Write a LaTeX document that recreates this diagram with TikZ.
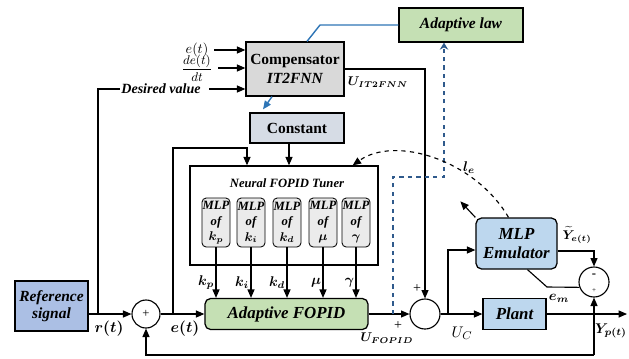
\documentclass[tikz,border=0pt]{standalone}
\usepackage{amsmath,bm}
\usepackage{fontspec}
\setmainfont{Liberation Serif}
\usepackage{xcolor}
\definecolor{LawGreen}{HTML}{C5E0B4}
\definecolor{CompGray}{HTML}{D9D9D9}
\definecolor{ConstBlue}{HTML}{D6DCE5}
\definecolor{MlpGray}{HTML}{EBEBEB}
\definecolor{RefBlue}{HTML}{ABBFE4}
\definecolor{EmuBlue}{HTML}{BDD7EE}
\definecolor{LinkBlue}{HTML}{2E75B6}
\definecolor{DashBlue}{HTML}{2F5A8C}
\usepackage{tikz}
\usetikzlibrary{arrows.meta, calc}

\begin{document}
\begin{tikzpicture}[x=0.025cm, y=-0.025cm,
  box/.style={rectangle, draw=black, line width=0.9pt, align=center, inner sep=1pt,
              font=\bfseries\itshape\fontsize{11}{12}\selectfont},
  rbox/.style={box, rounded corners=4pt},
  mlp/.style={rectangle, rounded corners=3pt, draw=black, line width=0.6pt, fill=MlpGray,
              minimum width=0.7cm, minimum height=1.225cm, inner sep=0pt, align=center,
              font=\bfseries\itshape\fontsize{9}{11}\selectfont},
  sumc/.style={circle, draw=black, line width=0.8pt, minimum size=0.75cm, inner sep=0pt},
  arr/.style={-{Triangle[length=6pt,width=5pt]}, line width=0.8pt},
  ln/.style={line width=0.8pt},
  blu/.style={line width=1pt, color=LinkBlue},
  bdash/.style={-{Stealth[length=5pt,width=6pt]}, line width=1.1pt, dashed, color=DashBlue},
  lbl/.style={font=\bfseries\itshape\fontsize{10}{11}\selectfont, inner sep=1pt}
]
\useasboundingbox (0,0) rectangle (629,358);

%% ---- Top: adaptive law and compensator ----
\node[box, fill=LawGreen, minimum width=3.1cm, minimum height=0.85cm] (law) at (461,25) {Adaptive law};
\node[box, fill=CompGray, minimum width=2.45cm, minimum height=1.35cm,
      font=\bfseries\fontsize{11}{13}\selectfont] (comp) at (295,69) {Compensator\\\textit{IT2FNN}};
\node[box, fill=ConstBlue, minimum width=2.35cm, minimum height=0.75cm,
      font=\bfseries\fontsize{11}{12}\selectfont] (const) at (297,128) {Constant};

%% ---- Compensator inputs ----
\node[inner sep=1pt, font=\fontsize{10}{11}\selectfont] (et) at (197,50) {$e(t)$};
\node[inner sep=1pt, font=\fontsize{9}{10}\selectfont] (dedt) at (197,68) {$\dfrac{de(t)}{dt}$};
\node[lbl] (desired) at (161,89) {Desired value};

%% ---- Neural FOPID tuner ----
\node[draw, line width=0.9pt, minimum width=4.7cm, minimum height=2.475cm] (tuner) at (284,215.5) {};
\node[lbl, font=\bfseries\itshape\fontsize{9}{10}\selectfont] (tunertitle) at (287,183) {Neural FOPID Tuner};
\foreach \x/\kk [count=\i] in {216/k_p, 251/k_i, 287/k_d, 323/\mu, 356/\gamma}
  \node[mlp] (m\i) at (\x,222.5) {MLP\\of\\$\boldsymbol{\kk}$};

%% ---- Main loop ----
\node[box, fill=RefBlue, minimum width=1.825cm, minimum height=1.25cm] (ref) at (51.5,306) {Reference\\signal};
\node[sumc, minimum size=0.7cm] (sum1) at (146,314) {\fontsize{9}{9}\selectfont +};
\node[rbox, fill=LawGreen, minimum width=4.075cm, minimum height=0.775cm,
      font=\bfseries\itshape\fontsize{12}{13}\selectfont] (fopid) at (286.5,314) {Adaptive FOPID};
\node[sumc] (sum2) at (425,314) {};
\node[box, fill=EmuBlue, minimum width=1.575cm, minimum height=0.775cm,
      font=\bfseries\itshape\fontsize{12}{13}\selectfont] (plant) at (514.5,314) {Plant};
\node[rbox, fill=EmuBlue, minimum width=2.025cm, minimum height=1.275cm,
      font=\bfseries\itshape\fontsize{12}{14}\selectfont] (emu) at (516.5,243.5) {MLP\\Emulator};
\node[sumc] (sum3) at (594,282) {};
\node[font=\bfseries\fontsize{9}{9}\selectfont] (sum3m) at (594,276) {-};
\node[font=\fontsize{5}{5}\selectfont] (sum3p) at (594,291) {+};

%% ---- Junction points ----
\coordinate (rj) at (98,314);
\coordinate (ej) at (173,314);
\coordinate (ek) at (247,148);
\coordinate (cx) at (289,0);
\coordinate (bk) at (320,25);
\coordinate (tapf) at (393,314);
\coordinate (dk) at (444,177);
\coordinate (uj) at (448,314);
\coordinate (embend) at (547,287);
\coordinate (fb) at (594,355);
\coordinate (yout) at (627,314);

%% ---- Signal arrows ----
\draw[arr] (ref.east |- sum1.west) -- (sum1.west);
\draw[arr] (sum1.east) -- (fopid.west);
\draw[ln] (rj) |- (desired.west);
\draw[arr, shorten <=5pt] (desired.east) -- (desired.east -| comp.west);
\draw[arr, shorten <=3pt] (et.east) -- (et.east -| comp.west);
\draw[arr, shorten <=3pt] (dedt.east) -- (dedt.east -| comp.west);
\draw[arr] (ej) |- (ek) -- (ek |- tuner.north);
\draw[arr] (cx |- const.south) -- (cx |- tuner.north);
\foreach \i/\kk in {1/k_p, 2/k_i, 3/k_d, 4/\mu, 5/\gamma}
  \draw[arr] (m\i.south) -- node[lbl, left, pos=0.7, font=\fontsize{10}{11}\selectfont] {$\boldsymbol{\kk}$} (m\i.south |- fopid.north);
\draw[arr] (fopid.east) -- (sum2.west);
\draw[arr] (comp.east) -| (sum2.north);
\draw[arr] (sum2.east) -- (plant.west);
\draw[arr] (uj) |- ($(emu.west)+(0,6.5)$);
\draw[arr] (plant.east) -- (yout);
\draw[arr] ($(emu.east)+(0,7.5)$) -| (sum3.north);
\draw[ln] (sum3.200) -- (embend) -- ($(emu.south)+(11,0)$);
\draw[arr] (fb) -| (sum1.south);
\draw[arr] (fb) -- (sum3.south);
\draw[arr] (emu.north west) -- ++(-15,-16);

%% ---- Adaptation links ----
\draw[blu] (law.west) -- (bk) -- ($(comp.north)+(12,0)$);
\draw[blu, -{Triangle[length=6pt,width=5pt]}] ($(comp.south)+(-23,0)$) -- ($(const.north)+(-34,-3)$);
\draw[bdash] (tapf) |- (dk) -- (dk |- law.south);
\draw[ln, dashed, -{Triangle[length=6pt,width=5pt]}] ($(emu.north)+(-8,0)$)
  .. controls (475,160) and (395,135) .. ($(tuner.north east)+(-26,0)$);

%% ---- Signal labels ----
\node[lbl, font=\fontsize{11}{12}\selectfont] (lr) at (109,329) {$\boldsymbol{r(t)}$};
\node[lbl, font=\fontsize{11}{12}\selectfont] (le) at (185,329) {$\boldsymbol{e(t)}$};
\node[lbl, font=\fontsize{9}{10}\selectfont] (lufopid) at (387,338) {$\boldsymbol{U_{FOPID}}$};
\node[lbl, font=\fontsize{9}{10}\selectfont] (luit) at (378,82) {$\boldsymbol{U_{IT2FNN}}$};
\node[font=\fontsize{11}{12}\selectfont] (luc) at (462,333) {$U_C$};
\node[lbl] (lyp) at (611,331) {$\boldsymbol{Y_{p(t)}}$};
\node[lbl] (lem) at (559,298) {$\boldsymbol{e_m}$};
\node[lbl, font=\fontsize{9}{10}\selectfont, anchor=west] (lyhat) at (561,235) {$\widetilde{\boldsymbol{Y}}_{\boldsymbol{e(t)}}$};
\node[lbl] (lle) at (469,168) {$\boldsymbol{l_e}$};
\node[font=\fontsize{10}{10}\selectfont] (plusa) at (398,326) {+};
\node[font=\fontsize{10}{10}\selectfont] (plusb) at (417,289) {+};

\end{tikzpicture}
\end{document}
